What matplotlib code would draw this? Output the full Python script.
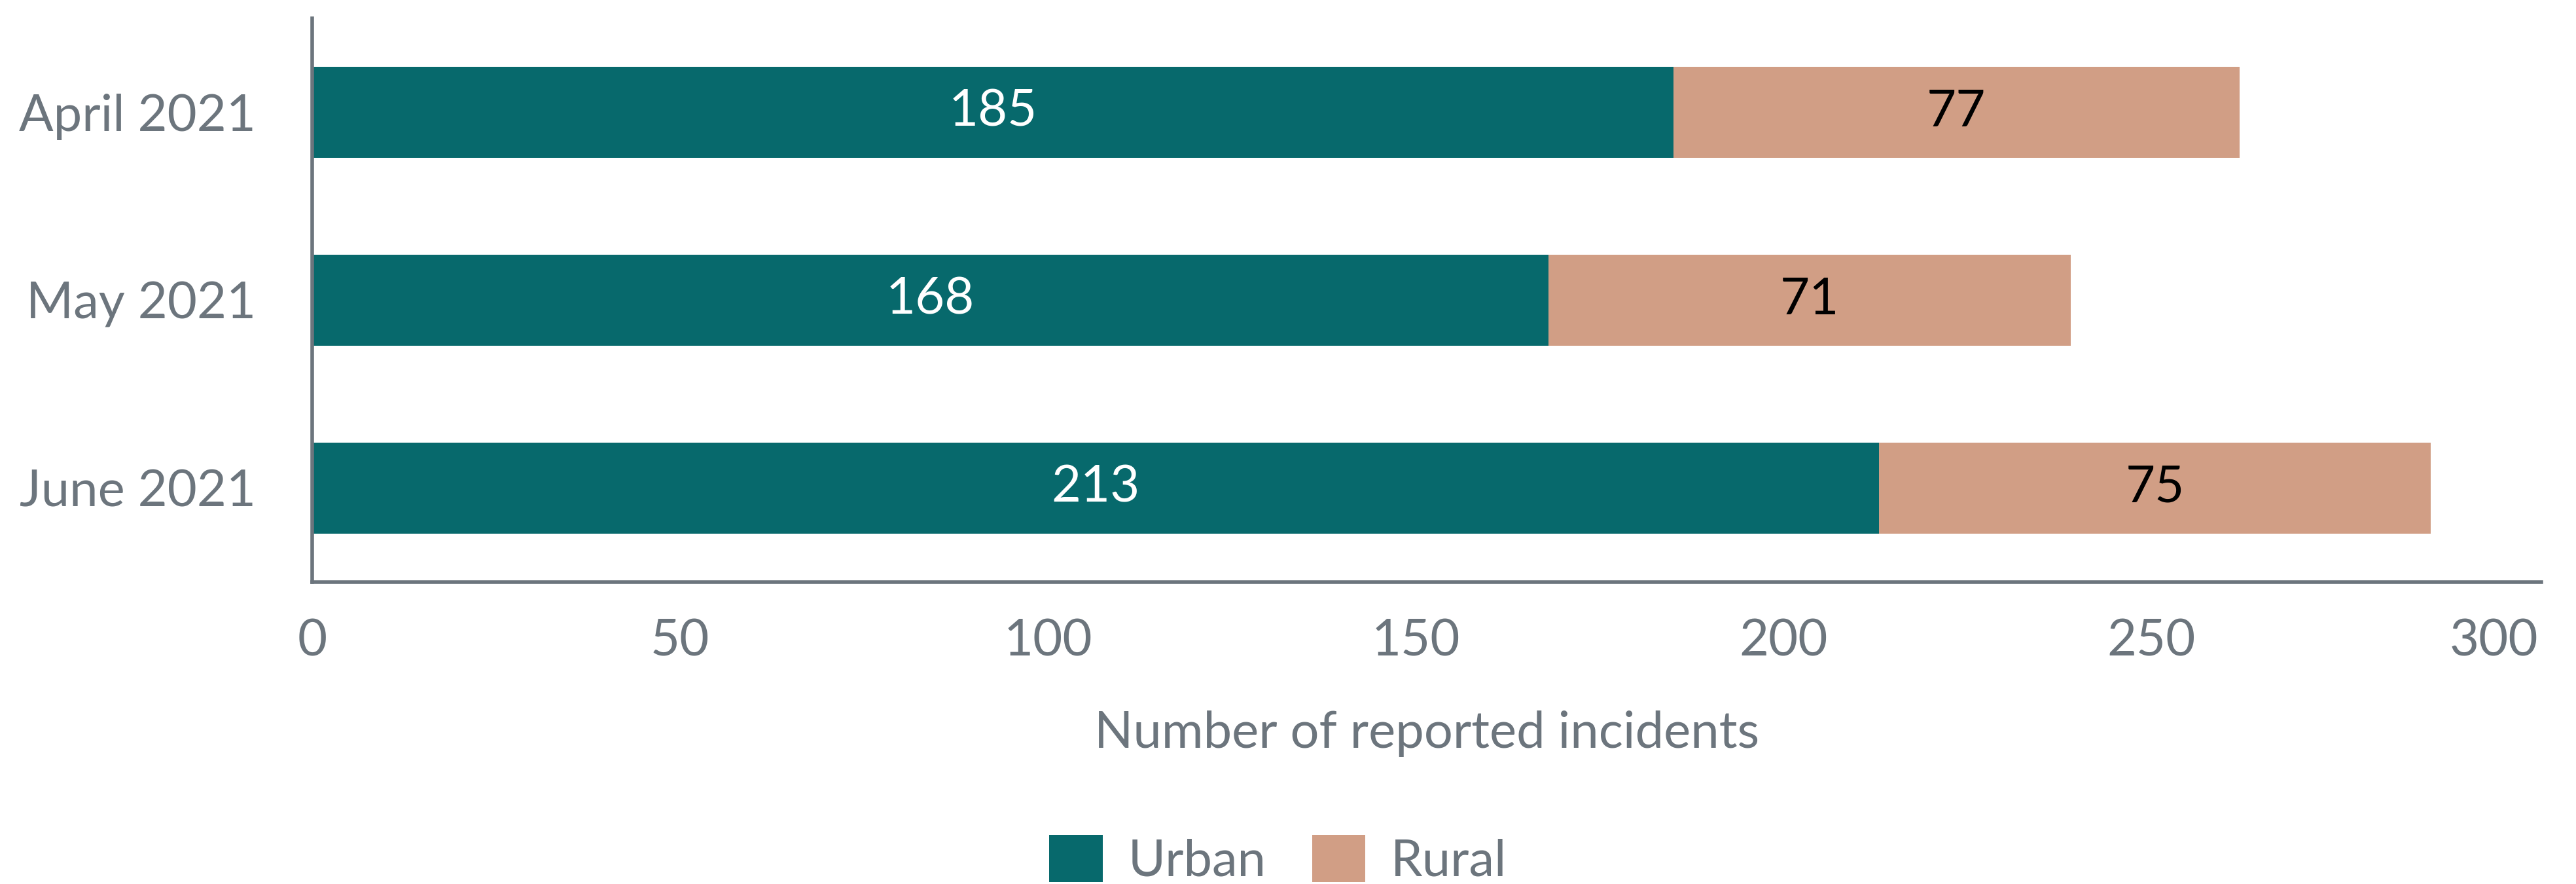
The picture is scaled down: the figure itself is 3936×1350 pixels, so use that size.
import numpy as np
import matplotlib
matplotlib.use('Agg')
import matplotlib.pyplot as plt
import matplotlib.transforms as mtransforms
from matplotlib.patches import Patch

months = ['April 2021', 'May 2021', 'June 2021']
urban = [185, 168, 213]
rural = [77, 71, 75]
xticks = [0, 50, 100, 150, 200, 250, 300]

teal = '#07696C'
tan = '#D19E85'
grey = '#6C757D'

plt.rcParams['font.family'] = ['Lato', 'DejaVu Sans']

fig = plt.figure(figsize=(39.37, 13.5), dpi=100)
ax = fig.add_axes([0.1212, 0.3415, 0.8651, 0.6378])

y = np.arange(len(months))
h = 0.483
ax.barh(y, urban, height=h, color=teal)
ax.barh(y, rural, left=urban, height=h, color=tan)

for i in range(len(months)):
    ax.text(urban[i] / 2, y[i], str(urban[i]), ha='center', va='center',
            color='white', fontsize=56)
    ax.text(urban[i] + rural[i] / 2, y[i], str(rural[i]), ha='center', va='center',
            color='black', fontsize=56)

ax.set_xlim(0, 303)
ax.set_ylim(2.5, -0.5)
ax.set_yticks(y)
ax.set_yticklabels(months)
ax.set_xticks(xticks)
ax.set_xticklabels([str(t) for t in xticks])

for s in ['top', 'right']:
    ax.spines[s].set_visible(False)
for s in ['left', 'bottom']:
    ax.spines[s].set_color(grey)
    ax.spines[s].set_linewidth(4)

ax.tick_params(axis='both', length=0, labelsize=56, colors=grey)
ax.tick_params(axis='y', pad=62)
ax.tick_params(axis='x', pad=40)

# last tick label sits inside the axis end
last = ax.get_xticklabels()[-1]
last.set_horizontalalignment('right')
last.set_transform(last.get_transform() + mtransforms.ScaledTranslation(29 / 100, 0, fig.dpi_scale_trans))

ax.set_xlabel('Number of reported incidents', fontsize=56, color=grey, labelpad=50)

handles = [Patch(facecolor=teal, label='Urban'), Patch(facecolor=tan, label='Rural')]
fig.legend(handles=handles, loc='center', bbox_to_anchor=(0.496, 0.027), ncol=2,
           frameon=False, fontsize=56, labelcolor=grey, handlelength=1.05,
           handleheight=1.05, handletextpad=0.5, columnspacing=0.9)

fig.savefig('out.png', dpi=100)
